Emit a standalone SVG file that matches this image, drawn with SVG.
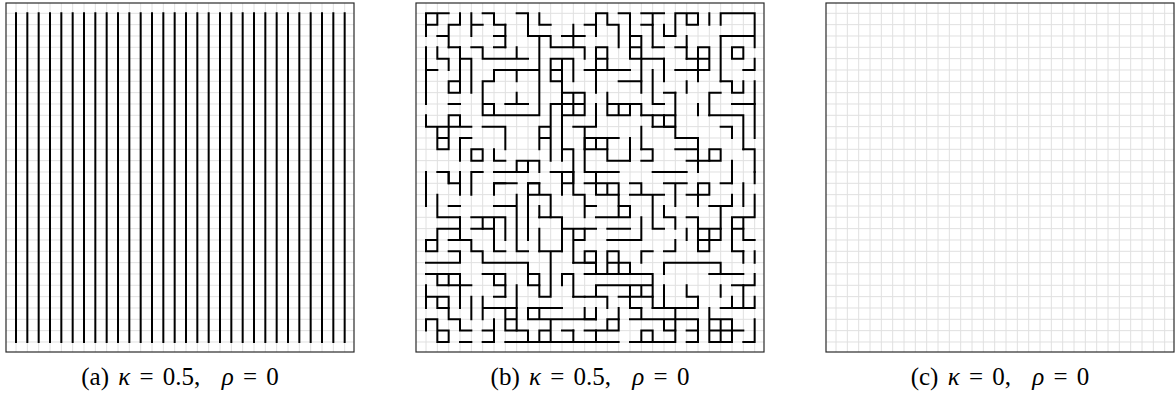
<svg xmlns="http://www.w3.org/2000/svg" width="1176" height="394" viewBox="0 0 1176 394">
<style>
.frame{fill:none;stroke:#2a2a2a;stroke-width:1.2}
.grid{fill:none;stroke:#e0e0e0;stroke-width:1}
.edge{fill:none;stroke:#000;stroke-width:2;stroke-linecap:square}
.cap{font-family:"Liberation Serif","Times New Roman",serif;font-size:25px;fill:#000;word-spacing:3px}
.m{font-style:italic}
</style>
<defs>
<path id="gridlines" class="grid" d="M16 3v349M27.33 3v349M38.67 3v349M50 3v349M61.33 3v349M72.67 3v349M84 3v349M95.33 3v349M106.67 3v349M118 3v349M129.33 3v349M140.67 3v349M152 3v349M163.33 3v349M174.67 3v349M186 3v349M197.33 3v349M208.67 3v349M220 3v349M231.33 3v349M242.67 3v349M254 3v349M265.33 3v349M276.67 3v349M288 3v349M299.33 3v349M310.67 3v349M322 3v349M333.33 3v349M344.67 3v349M6 13.3h348M6 24.63h348M6 35.97h348M6 47.3h348M6 58.63h348M6 69.97h348M6 81.3h348M6 92.63h348M6 103.97h348M6 115.3h348M6 126.63h348M6 137.97h348M6 149.3h348M6 160.63h348M6 171.97h348M6 183.3h348M6 194.63h348M6 205.97h348M6 217.3h348M6 228.63h348M6 239.97h348M6 251.3h348M6 262.63h348M6 273.97h348M6 285.3h348M6 296.63h348M6 307.97h348M6 319.3h348M6 330.63h348M6 341.97h348"/>
</defs>
<g id="panel-a">
<use href="#gridlines"/>
<path class="edge" d="M16 13.3V342M27.33 13.3V342M38.67 13.3V342M50 13.3V342M61.33 13.3V342M72.67 13.3V342M84 13.3V342M95.33 13.3V342M106.67 13.3V342M118 13.3V342M129.33 13.3V342M140.67 13.3V342M152 13.3V342M163.33 13.3V342M174.67 13.3V342M186 13.3V342M197.33 13.3V342M208.67 13.3V342M220 13.3V342M231.33 13.3V342M242.67 13.3V342M254 13.3V342M265.33 13.3V342M276.67 13.3V342M288 13.3V342M299.33 13.3V342M310.67 13.3V342M322 13.3V342M333.33 13.3V342M344.67 13.3V342"/>
<rect class="frame" x="6" y="3" width="348" height="349"/>
<text class="cap" x="180" y="385" text-anchor="middle">(a) <tspan class="m">κ</tspan> = 0.5, <tspan dx="12" class="m">ρ</tspan> = 0</text>
</g>
<g id="panel-b">
<use href="#gridlines" transform="translate(410 0)"/>
<g transform="translate(426 13.3) scale(11.333)">
<path class="edge" vector-effect="non-scaling-stroke" d="M0 2V0H2M1 0V1H0M3 0V1H2V3M1 2H2M4 0V2M4 1H5M5 0H6V1H7M6 2H7M6 3H7M8 0H9V2H11V3M10 2V9M10 0V1H11M12 2H14M13 1V2M14 1H15V2M11 3H14V4M0 3V8M0 5H1M1 3V4H2V5M3 3V6M3 4H4M4 3H5V4H9M8 3V4M11 4H13V5M11 4V6H12M11 5H12M12 4V13M13 5V6M14 5H15M15 6V7M5 6V9H10M5 6H6V5H10M8 5V6M8 7V8M7 8H9M5 8H6V9M4 4V7M2 6H3V7H2V6M2 8H3M12 7H14M11 8H14M12 9H14M13 7V9M14 7V9M11 8V13M15 8V10M0 9V10H4M2 9H3V10M2 9V10M1 10V12H2V10M1 11H2M5 10H7V11M3 11H4M3 11V13M4 12H5V13H4V12M6 12V13H7M7 11V12M8 13H10V14M9 13V14M8 13V14M10 10H11M10 10V12M10 11H11M12 12H13V14M13 10H14V12M14 10H15M0 14V15M1 14H2V15M3 14V15M6 15H7M9 15H10M12 14V15"/>
<path class="edge" vector-effect="non-scaling-stroke" d="M15 0H16V1M15 0V1M16 1H17V3M17 0H18V4H19V2H18M18 3H19M19 0H21M20 0V1M22 2V0H24V1H23V0M25 0V1M26 1V0H29V3M26 2H29M15 3H16V4H15V3M15 4V5M20 3H21M22 3H23V4M21 4V6M24 3H25V5H24V3M24 4H25M24 5V6M27 3H28V4H27V3M29 4V5M28 5H29M15 5H18M15 5V6M17 6H19V7M16 7V8M21 7H22M23 6V7M22 5H24M26 6H27V7M28 6V7H27M29 6V8M16 8H18V9H16V8M17 8V9M18 8H19V9M20 9V10M21 9H22V10H21V9M22 10V11H24V12M25 9H28V12M29 8V11M24 8V9M14 11H17M14 11V12H16V11M15 11V12M18 11V13M19 12H20V13H19M22 12H24V13M25 12H26V13H25V12M15 14H17M15 14V15M20 14H23M27 13V15"/>
<path class="edge" vector-effect="non-scaling-stroke" d="M2 14V15M4 14H5M4 14V16M6 14H9M11 14H13M12 14V16M12 15H13V14M6 15H8M6 15V16M9 15H10V16H9V15M9 15V17M9 16H11M11 16V18M0 15V17M3 15V16M2 15H3M1 16V18H3M2 17H3M6 17H8M8 16V19M9 17V20M4 18H7M5 18V19H6V18M7 18V20M1 19H3M1 19V20M0 20H1V21H0V20M2 20H4V21H5V22M8 19V21H9M10 19V21M10 18H11M12 19H14M12 19V21M13 19V20H14V19M13 20V22M14 21H15V22H14V21M0 22H3M3 21V22M2 21H3M5 22H9V24M0 23H3M1 23H2V24H1V23M5 23H7M6 23V24H7V23M9 23H10V24H9M12 23H13V25M12 23V24M0 24V26M0 25H1M1 25H2V26H1V25M3 25V26M4 25V27M6 25H7M5 25V27M5 26H7M7 26H8V28H7V26M7 27H8M9 26H12M9 26V27M10 26V27M9 27H15M14 26V27M11 27V29M10 28H11M10 28V29M0 27H1V28M0 27V28M1 28H2V29H1V28M3 29H4M5 29H6V28M7 29H15M12 28H13"/>
<path class="edge" vector-effect="non-scaling-stroke" d="M15 15H17M15 15V16H17V15M16 15V16M18 15H19V16H18M21 15H23M22 15V17M24 15H25V16H24V15M24 16V17M26 15H27V14M28 15V17M29 14V15M29 16V18M17 17H18V18H17V17M19 16H21M20 16V19H21M15 18H17M19 18V20M23 18H24V19M27 18H28V19H27V18M28 18H29M14 19H15M16 19H18M16 20H19M24 19H26V20M24 20H26M24 21H25M24 19V21M25 19V21M23 19V20M22 20V21H21M16 21H17V23H16V21M16 22H18V23H17M19 21V22M19 21H20M21 22H26M21 22V23M28 21V22M29 21V22M25 23H28M26 22V23M29 23V24H28M14 23H20V24M15 24H20M15 24V25M18 24V25H20V24M19 24V25M21 24V26M23 24V25H24M26 24V25M28 24V26M14 25H16V26M20 26H24M22 26V27M19 26V27M25 26V27M26 26H27M14 27H15M16 27H17V28H15M16 27V28M18 27H24M21 27V28M22 27V28M21 28H22M24 27V29M23 28H24M25 27H27M25 28H28M25 29H27M25 27V29M26 27V29M27 27V29M29 27V28M28 29H29V28M19 28H20V29H19V28M18 29H19"/>
<path class="edge" vector-effect="non-scaling-stroke" d="M7 1V3M2 3H3M13 2V3M16 4V5M19 4H21M19 4V6M20 5V8H21M22 7V9M23 4H24M26 2V6M27 8H29M25 7V9M25 7H26M19 9H21M19 10V12M20 10H22M23 13H25M24 13V14M26 10H27V11M28 12H29V14M14 12V14H15M16 12V13H18M13 14V16M14 15H15M13 16H14V18M10 17V18M11 18H12V19M14 17H15M3 18V20M6 19V21H7M4 19H5M10 21H12M11 21V23M13 22H15M15 22V23M3 23V25M2 24H4M7 24V25M8 24V26M10 24V25H11V23M13 25H14M2 26V27H3M3 27V28H4M6 27V28H5M8 28H9V29M13 28V29M14 28H15M17 16V17M21 17V18H22V19M23 16H24M25 17H27V16M26 17V19M27 19V21H28M28 19V20H29M27 24H28M27 25V26H29M29 25V26M24 25V26M20 25V26M17 25H18V26H19M15 26V27M17 26V27M23 29H24M20 29H22V28M15 28V29H17M21 1V2H22M19 1H20V3M23 2V3"/>
</g>
<rect class="frame" x="416" y="3" width="348" height="349"/>
<text class="cap" x="590" y="385" text-anchor="middle">(b) <tspan class="m">κ</tspan> = 0.5, <tspan dx="12" class="m">ρ</tspan> = 0</text>
</g>
<g id="panel-c">
<use href="#gridlines" transform="translate(820 0)"/>
<rect class="frame" x="826" y="3" width="348" height="349"/>
<text class="cap" x="1000" y="385" text-anchor="middle">(c) <tspan class="m">κ</tspan> = 0, <tspan dx="12" class="m">ρ</tspan> = 0</text>
</g>
</svg>
